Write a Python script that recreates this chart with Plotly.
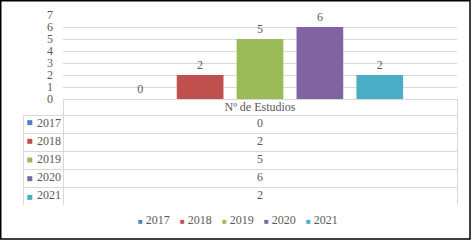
import plotly.graph_objects as go

category = "Nº de Estudios"
years = ["2017", "2018", "2019", "2020", "2021"]
values = [0, 2, 5, 6, 2]
colors = ["#4F81BD", "#C0504D", "#9BBB59", "#8064A2", "#4BACC6"]

W, H = 472, 241
FONT = "Liberation Serif, Times New Roman, serif"
TXT = "#595959"
GRID = "#D9D9D9"
NB = "\u00a0"
CLEAR = "rgba(0,0,0,0)"


def py(y):
    """pixel row -> paper fraction"""
    return 1 - y / H


fig = go.Figure()
for y, v, c in zip(years, values, colors):
    fig.add_trace(go.Bar(
        x=[category], y=[v], name=y, marker=dict(color=c, line=dict(width=0)),
        text=[str(v)], textposition="outside", cliponaxis=False,
        textfont=dict(family=FONT, size=12, color=TXT),
        showlegend=False,
    ))

# data table: grid layer
fig.add_trace(go.Table(
    domain=dict(x=[23 / W, 457 / W], y=[py(205), py(99)]),
    columnwidth=[40, 394],
    header=dict(values=["", ""], height=16,
                fill=dict(color=[CLEAR, "white"]),
                line=dict(color=[CLEAR, GRID], width=1)),
    cells=dict(values=[[""] * len(years), [""] * len(values)], height=18,
               fill=dict(color=[CLEAR, "white"]),
               line=dict(color=GRID, width=1)),
))

# coloured keys of the data table, one per row
fig.add_trace(go.Scatter(
    x=[29.8] * len(years), y=years, mode="markers",
    marker=dict(symbol="square", size=5, color=colors, line=dict(width=0)),
    xaxis="x2", yaxis="y2", showlegend=False, hoverinfo="skip",
))

# data table: text layer (nudged up so text sits in the middle of each row)
fig.add_trace(go.Table(
    domain=dict(x=[23 / W, 457 / W], y=[py(200), py(94)]),
    columnwidth=[40, 394],
    header=dict(values=["", category.replace(" ", NB)], height=16,
                fill=dict(color=CLEAR), line=dict(color=CLEAR, width=0),
                align="center",
                font=dict(family=FONT, size=12, color=TXT)),
    cells=dict(values=[[NB * 2 + y for y in years],
                       [str(v) for v in values]],
               height=18,
               fill=dict(color=CLEAR), line=dict(color=CLEAR, width=0),
               align=["left", "center"],
               font=dict(family=FONT, size=12, color=TXT)),
))

key = '<span style="color:{c};font-size:8px">■</span> {y}'
ann = []
for i, (y, c) in enumerate(zip(years, colors)):
    ann.append(dict(
        x=(137 + i * 42) / W, y=py(220), xref="paper", yref="paper",
        xanchor="left", yanchor="middle", showarrow=False,
        text=key.format(c=c, y=y), borderpad=0,
        font=dict(family=FONT, size=12, color=TXT),
    ))

fig.update_layout(
    width=W, height=H, margin=dict(l=0, r=0, t=0, b=0, autoexpand=False),
    paper_bgcolor="white", plot_bgcolor="white",
    barmode="group", bargap=0.24, bargroupgap=0.22,
    showlegend=False,
    xaxis=dict(domain=[63 / W, 457 / W], showticklabels=False, showgrid=False,
               zeroline=False, showline=False, ticks=""),
    yaxis=dict(domain=[py(99), py(15)], range=[0, 7], dtick=1,
               showgrid=True, gridcolor=GRID, gridwidth=1,
               zeroline=True, zerolinecolor=GRID, zerolinewidth=1,
               showline=False, ticks="", ticklabelstandoff=9,
               tickfont=dict(family=FONT, size=12, color=TXT)),
    xaxis2=dict(domain=[0, 1], range=[0, W], visible=False, anchor="y2"),
    yaxis2=dict(domain=[py(205), py(115)], type="category",
                categoryorder="array", categoryarray=years,
                autorange="reversed", visible=False, anchor="x2"),
    annotations=ann,
    shapes=[dict(type="rect", xref="paper", yref="paper",
                 x0=0.75 / W, x1=470 / W, y0=py(239), y1=py(0.75),
                 line=dict(color="black", width=1.5), fillcolor="rgba(0,0,0,0)")],
)

fig.write_html("out.html", config={"displayModeBar": False},
               post_script="document.body.style.margin='0';")
